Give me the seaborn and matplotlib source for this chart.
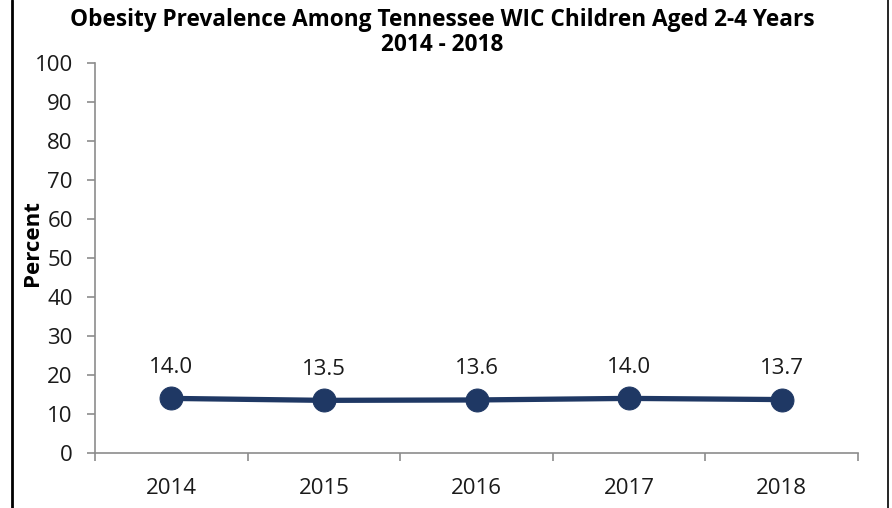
import matplotlib
matplotlib.use("Agg")
import matplotlib.pyplot as plt
from matplotlib.lines import Line2D
import seaborn as sns
import pandas as pd

years = ["2014", "2015", "2016", "2017", "2018"]
values = [14.0, 13.5, 13.6, 14.0, 13.7]
yticks = [0, 10, 20, 30, 40, 50, 60, 70, 80, 90, 100]
title_lines = ["Obesity Prevalence Among Tennessee WIC Children Aged 2-4 Years", "2014 - 2018"]

sns.set_theme(style="white")
plt.rcParams['font.family'] = ['Open Sans', 'DejaVu Sans']

df = pd.DataFrame({"pos": range(len(years)), "value": values})

W, H = 892, 508
fig = plt.figure(figsize=(W / 100, H / 100), dpi=100)
ax = fig.add_axes([95/W, 55/H, (858-95)/W, (453-63)/H])

navy = "#1F3864"
sns.lineplot(data=df, x="pos", y="value", ax=ax, color=navy, linewidth=3.8,
             marker="o", markersize=16.5, markeredgecolor=navy, markerfacecolor=navy)

for i, v in enumerate(values):
    ax.annotate(f"{v:.1f}", (i, v), xytext=(0, 15), textcoords="offset points",
                ha="center", va="bottom", fontsize=16, color="#1a1a1a")

ax.set_xlim(-0.5, len(years) - 0.5)
ax.set_ylim(0, 100)
ax.set_yticks(yticks)
ax.set_yticklabels([str(t) for t in yticks], fontsize=16, color="#1a1a1a")
ax.set_xticks([i - 0.5 for i in range(len(years) + 1)])
ax.set_xticklabels([])
ax.set_xticks(range(len(years)), minor=True)
ax.set_xticklabels(years, minor=True, fontsize=16, color="#1a1a1a")
ax.tick_params(axis="x", which="major", direction="out", length=6, color="#8c8c8c", width=1.2, bottom=True)
ax.tick_params(axis="x", which="minor", length=0, pad=18, bottom=True)
ax.tick_params(axis="y", direction="out", length=6, color="#8c8c8c", width=1.2, left=True, pad=10)

for s in ["top", "right"]:
    ax.spines[s].set_visible(False)
for s in ["left", "bottom"]:
    ax.spines[s].set_color("#8c8c8c")
    ax.spines[s].set_linewidth(1.2)

ax.set_xlabel("")
ax.set_ylabel("")
fig.text(32/W, 1 - 243/H, "Percent", rotation=90, ha="center", va="center",
         fontsize=16, fontweight="bold", color="black")

fig.text(442/W, 1 - 20/H, title_lines[0], ha="center", va="center",
         fontsize=16.3, fontweight="bold", color="black")
fig.text(442/W, 1 - 45/H, title_lines[1], ha="center", va="center",
         fontsize=16.3, fontweight="bold", color="black")

fig.add_artist(Line2D([12/W, 12/W], [0, 1], transform=fig.transFigure, color="black", linewidth=2))
fig.add_artist(Line2D([888/W, 888/W], [0, 1], transform=fig.transFigure, color="black", linewidth=1.2))

fig.savefig("out.png", dpi=100, facecolor="white")
